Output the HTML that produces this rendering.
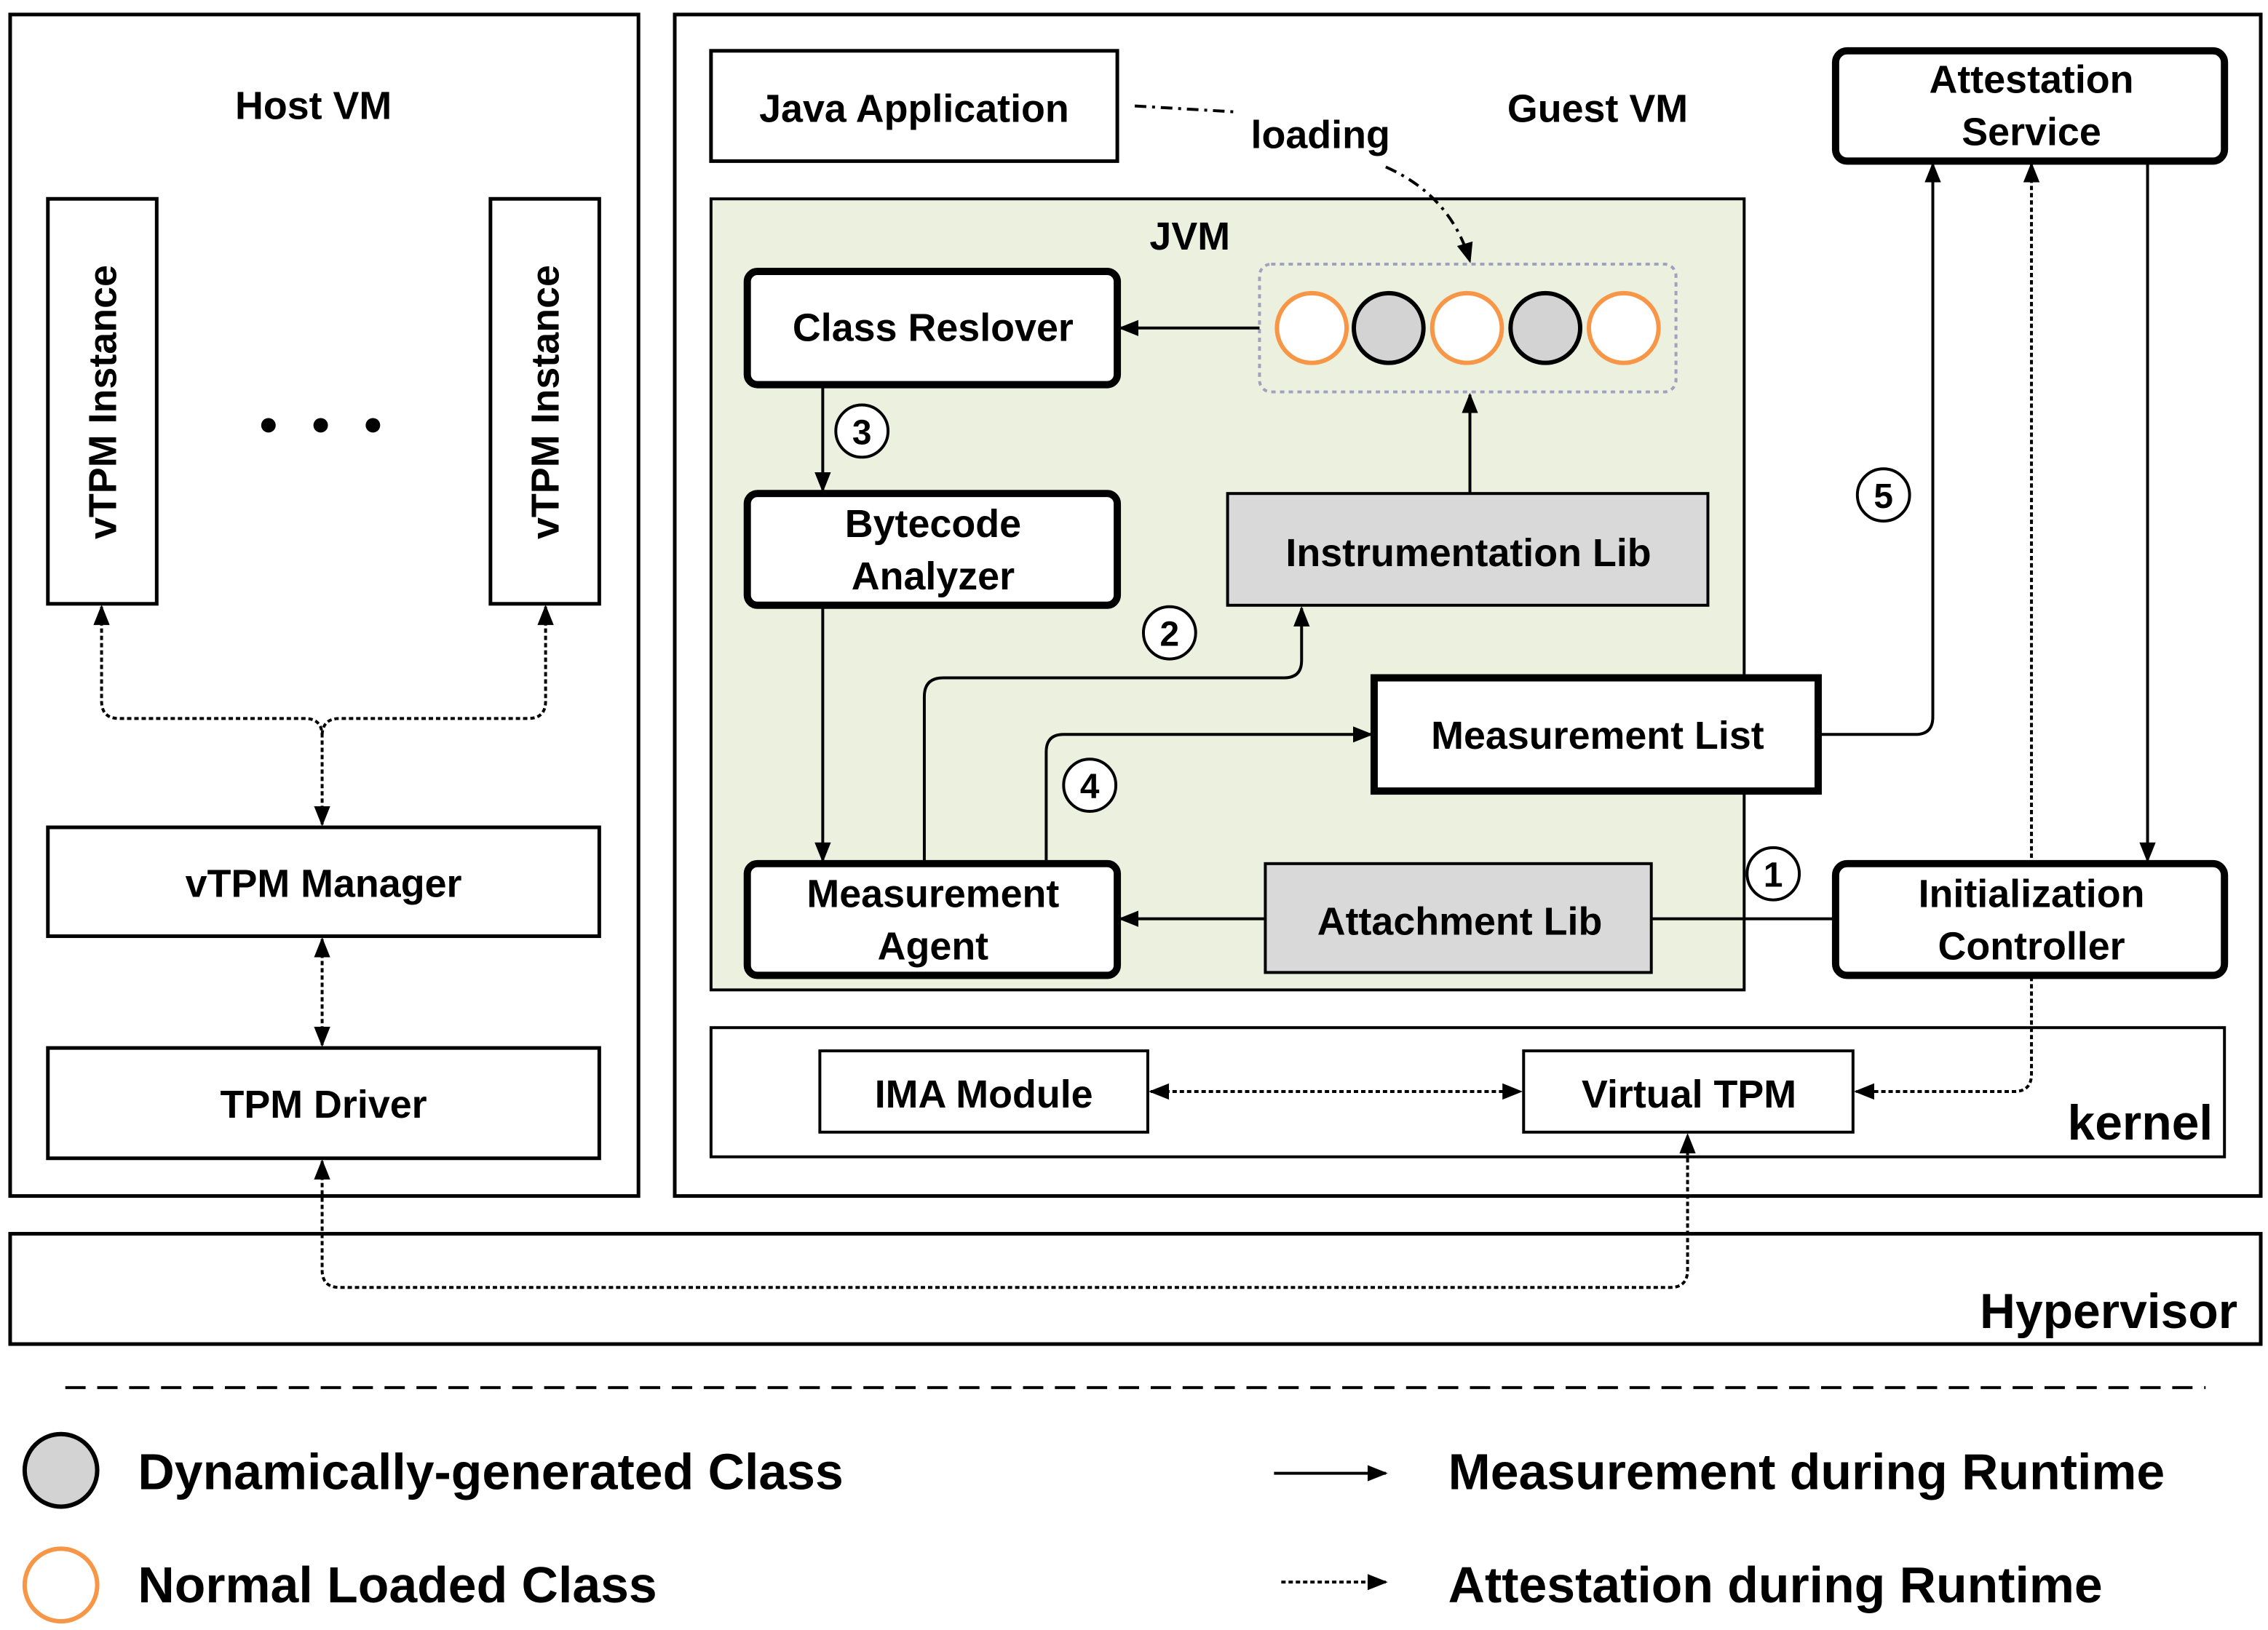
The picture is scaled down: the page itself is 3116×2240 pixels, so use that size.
<!DOCTYPE html>
<html><head><meta charset="utf-8"><style>
html,body{margin:0;padding:0;background:#fff;}
svg{display:block;}
text{font-family:"Liberation Sans",sans-serif;font-weight:bold;fill:#000;}
</style></head><body>
<svg width="3116" height="2240" viewBox="0 0 1563 1123" preserveAspectRatio="none" xmlns="http://www.w3.org/2000/svg">
<defs>
<marker id="a" viewBox="0 0 10 10" refX="9" refY="5" markerWidth="7" markerHeight="7" orient="auto-start-reverse"><path d="M0,1 L10,5 L0,9 z" fill="#000"/></marker>
</defs>
<g fill="none" stroke="#000" stroke-width="2.5">
<rect x="7" y="10" width="433" height="814"/>
<rect x="465" y="10" width="1093" height="814"/>
<rect x="7" y="850" width="1551" height="76"/>
<rect x="33" y="137" width="75" height="279"/>
<rect x="338" y="137" width="75" height="279"/>
<rect x="33" y="570" width="380" height="75"/>
<rect x="33" y="722" width="380" height="76"/>
<rect x="490" y="35" width="280" height="76"/>
<rect x="1265" y="35" width="268" height="76" rx="8" stroke-width="5"/>
<rect x="490" y="137" width="712" height="545" fill="#ebf1de" stroke-width="2"/>
<rect x="515" y="187" width="255" height="78" rx="7" stroke-width="5" fill="#fff"/>
<rect x="868" y="182" width="287" height="88" rx="8" stroke="#a0a0c0" stroke-dasharray="3,3" stroke-width="2"/>
<rect x="515" y="340" width="255" height="77" rx="7" stroke-width="5" fill="#fff"/>
<rect x="846" y="340" width="331" height="77" fill="#d9d9d9" stroke-width="2"/>
<rect x="947" y="467" width="306" height="78" stroke-width="5" fill="#fff"/>
<rect x="515" y="595" width="255" height="77" rx="7" stroke-width="5" fill="#fff"/>
<rect x="872" y="595" width="266" height="75" fill="#d9d9d9" stroke-width="2"/>
<rect x="490" y="708" width="1043" height="89" stroke-width="2"/>
<rect x="565" y="724" width="226" height="56" stroke-width="2"/>
<rect x="1050" y="724" width="227" height="56" stroke-width="2"/>
</g>
<g stroke-width="3">
<circle cx="904" cy="226" r="24" fill="#fff" stroke="#f79646"/>
<circle cx="957" cy="226" r="24" fill="#d3d3d3" stroke="#000"/>
<circle cx="1011" cy="226" r="24" fill="#fff" stroke="#f79646"/>
<circle cx="1065" cy="226" r="24" fill="#d3d3d3" stroke="#000"/>
<circle cx="1119" cy="226" r="24" fill="#fff" stroke="#f79646"/>
<circle cx="42" cy="1013" r="25" fill="#d3d3d3" stroke="#000"/>
<circle cx="42" cy="1092" r="25" fill="#fff" stroke="#f79646"/>
</g>
<g fill="#000"><circle cx="185" cy="293" r="5"/><circle cx="221" cy="293" r="5"/><circle cx="257" cy="293" r="5"/></g>
<g fill="none" stroke="#000" stroke-width="2">
<path d="M868,226 H772" marker-end="url(#a)"/>
<path d="M1013,340 V272" marker-end="url(#a)"/>
<path d="M567,265 V338" marker-end="url(#a)"/>
<path d="M567,417 V593" marker-end="url(#a)"/>
<path d="M637,595 V480 Q637,467 650,467 H885 Q897,467 897,455 V419" marker-end="url(#a)"/>
<path d="M721,595 V518 Q721,506 733,506 H945" marker-end="url(#a)"/>
<path d="M1253,506 H1320 Q1332,506 1332,494 V113" marker-end="url(#a)"/>
<path d="M1480,111 V593" marker-end="url(#a)"/>
<path d="M1265,633 H1138"/>
<path d="M872,633 H772" marker-end="url(#a)"/>
<path d="M878,1015 H955" marker-end="url(#a)"/>
</g>
<g fill="none" stroke="#000" stroke-width="2" stroke-dasharray="3,2">
<path d="M70,418 V483 Q70,495 82,495 H210 Q222,495 222,507 V568" marker-start="url(#a)" marker-end="url(#a)"/>
<path d="M376,418 V483 Q376,495 364,495 H234 Q222,495 222,507" marker-start="url(#a)"/>
<path d="M222,647 V720" marker-start="url(#a)" marker-end="url(#a)"/>
<path d="M222,800 V875 Q222,887 234,887 H1151 Q1163,887 1163,875 V782" marker-start="url(#a)" marker-end="url(#a)"/>
<path d="M793,752 H1048" marker-start="url(#a)" marker-end="url(#a)"/>
<path d="M1400,113 V740 Q1400,752 1388,752 H1279" marker-start="url(#a)" marker-end="url(#a)"/>
<path d="M883,1090 H955" marker-end="url(#a)"/>
</g>
<rect x="1265" y="595" width="268" height="77" rx="8" stroke-width="5" fill="#fff" stroke="#000"/>
<g fill="none" stroke="#000" stroke-width="2" stroke-dasharray="8,4,2,4">
<path d="M782,73 L850,77"/>
<path d="M955,115 Q1000,135 1013,180" marker-end="url(#a)"/>
</g>
<g fill="#fff" stroke="#000" stroke-width="2">
<circle cx="594" cy="297" r="18"/><circle cx="806" cy="436" r="18"/><circle cx="751" cy="541" r="18"/><circle cx="1222" cy="602" r="18"/><circle cx="1298" cy="341" r="18"/>
</g>
<g font-size="24" text-anchor="middle">
<text x="594" y="306">3</text><text x="806" y="445">2</text><text x="751" y="550">4</text><text x="1222" y="611">1</text><text x="1298" y="350">5</text>
</g>
<g font-size="27" text-anchor="middle">
<text x="216" y="82">Host VM</text>
<text x="80" y="277" transform="rotate(-90 80 277)">vTPM Instance</text>
<text x="385" y="277" transform="rotate(-90 385 277)">vTPM Instance</text>
<text x="223" y="618">vTPM Manager</text>
<text x="223" y="770">TPM Driver</text>
<text x="630" y="84">Java Application</text>
<text x="910" y="102">loading</text>
<text x="1101" y="84">Guest VM</text>
<text x="1400" y="64">Attestation</text>
<text x="1400" y="100">Service</text>
<text x="820" y="172">JVM</text>
<text x="643" y="235">Class Reslover</text>
<text x="643" y="370">Bytecode</text>
<text x="643" y="406">Analyzer</text>
<text x="1012" y="390">Instrumentation Lib</text>
<text x="1101" y="516">Measurement List</text>
<text x="643" y="625">Measurement</text>
<text x="643" y="661">Agent</text>
<text x="1006" y="644">Attachment Lib</text>
<text x="1400" y="625">Initialization</text>
<text x="1400" y="661">Controller</text>
<text x="678" y="763">IMA Module</text>
<text x="1164" y="763">Virtual TPM</text>
</g>
<g font-size="34" text-anchor="end">
<text x="1525" y="785">kernel</text>
<text x="1542" y="915">Hypervisor</text>
</g>
<path d="M45,956 H1520" stroke="#000" stroke-width="2" stroke-dasharray="14,8"/>
<g font-size="35">
<text x="95" y="1026">Dynamically-generated Class</text>
<text x="95" y="1104">Normal Loaded Class</text>
<text x="998" y="1026">Measurement during Runtime</text>
<text x="998" y="1104">Attestation during Runtime</text>
</g>
</svg>
</body></html>
